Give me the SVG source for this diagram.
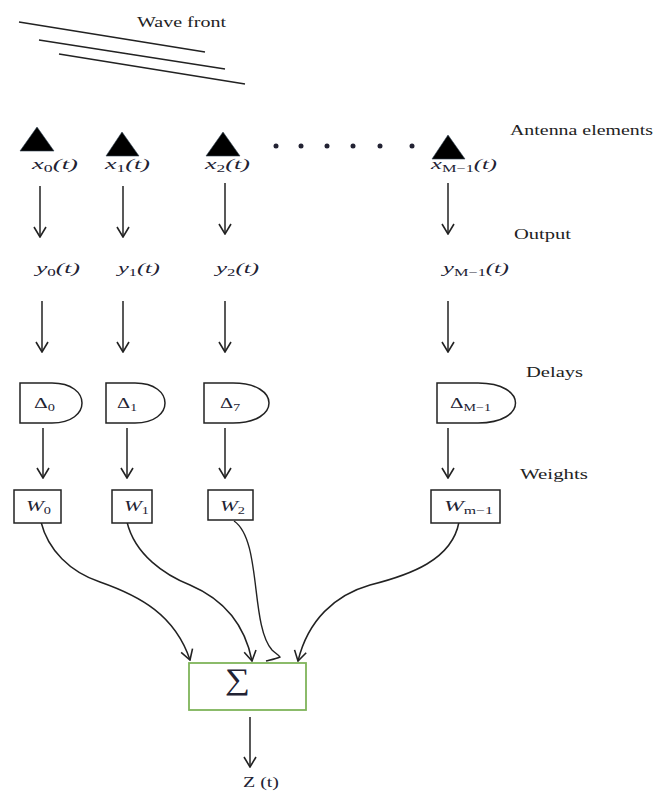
<svg xmlns="http://www.w3.org/2000/svg" width="667" height="792" viewBox="0 0 667 792">
<defs>
<marker id="a" viewBox="0 0 12 14" refX="11" refY="7" markerWidth="12" markerHeight="14" markerUnits="userSpaceOnUse" orient="auto"><path d="M1 1 L11 7 L1 13" fill="none" stroke="#222" stroke-width="1.6"/></marker>
</defs>
<style>
.t{font-family:"Liberation Serif",serif;font-size:15px;fill:#222}
.m{font-family:"Liberation Serif",serif;font-size:15px;font-style:italic;fill:#223}
.d{font-style:normal}
.s{font-size:10px;font-style:normal}
.b{fill:#fff;stroke:#222;stroke-width:1.5}
.c{fill:none;stroke:#222;stroke-width:1.5;marker-end:url(#a)}
.l{fill:none;stroke:#222;stroke-width:1.4}
.tri{fill:#000;stroke:#345;stroke-width:.6}
</style>
<rect width="667" height="792" fill="#fff"/>
<g id="wave-front">
<path class="l" d="M19 22L205 52M39 40L225 69M59 54L245 84"/>
<text class="t" x="137" y="27" textLength="89" lengthAdjust="spacingAndGlyphs">Wave front</text>
</g>
<g id="antennas">
<path class="tri" d="M37 127L54 151H20Z"/><path class="tri" d="M122 132L139 156H106Z"/><path class="tri" d="M223 132L240 156H206Z"/><path class="tri" d="M448 135L465 159H432Z"/>
<g fill="#223"><circle cx="276" cy="146" r="2.5"/><circle cx="301" cy="146" r="2.5"/><circle cx="327" cy="146" r="2.5"/><circle cx="353" cy="146" r="2.5"/><circle cx="380" cy="146" r="2.5"/><circle cx="412" cy="146" r="2.5"/></g>
<text class="t" x="510" y="135" textLength="143" lengthAdjust="spacingAndGlyphs">Antenna elements</text>
</g>
<g id="x-labels">
<text class="m" x="32" y="169" textLength="46" lengthAdjust="spacingAndGlyphs">x<tspan class="s" dy="3">0</tspan><tspan dy="-3">(t)</tspan></text>
<text class="m" x="105" y="169" textLength="45" lengthAdjust="spacingAndGlyphs">x<tspan class="s" dy="3">1</tspan><tspan dy="-3">(t)</tspan></text>
<text class="m" x="205" y="169" textLength="45" lengthAdjust="spacingAndGlyphs">x<tspan class="s" dy="3">2</tspan><tspan dy="-3">(t)</tspan></text>
<text class="m" x="431" y="169" textLength="66" lengthAdjust="spacingAndGlyphs">x<tspan class="s" dy="3">M−1</tspan><tspan dy="-3">(t)</tspan></text>
</g>
<g id="connectors">
<path class="c" d="M40 186V237"/><path class="c" d="M123 186V237"/><path class="c" d="M225 183V234"/><path class="c" d="M448 183V234"/>
<path class="c" d="M42 301V352"/><path class="c" d="M123 301V352"/><path class="c" d="M225 301V352"/><path class="c" d="M448 301V352"/>
<path class="c" d="M43 428V478"/><path class="c" d="M127 428V478"/><path class="c" d="M225 428V478"/><path class="c" d="M448 428V478"/>
<path class="c" d="M41 522C48 550 70 572 100 582C140 596 175 615 190 660"/>
<path class="c" d="M127 522C135 555 165 575 190 585C225 600 245 625 252 661"/>
<path class="l" d="M234 521C262 540 250 625 272 650C275 653 279 655 280 657C276 659 270 660 266 661"/>
<path class="c" d="M459 522C452 560 410 575 370 585C335 595 308 620 298 661"/>
<path class="c" d="M250 717V767"/>
</g>
<g id="y-labels">
<text class="m" x="36" y="273" textLength="44" lengthAdjust="spacingAndGlyphs">y<tspan class="s" dy="3">0</tspan><tspan dy="-3">(t)</tspan></text>
<text class="m" x="118" y="273" textLength="42" lengthAdjust="spacingAndGlyphs">y<tspan class="s" dy="3">1</tspan><tspan dy="-3">(t)</tspan></text>
<text class="m" x="216" y="273" textLength="43" lengthAdjust="spacingAndGlyphs">y<tspan class="s" dy="3">2</tspan><tspan dy="-3">(t)</tspan></text>
<text class="m" x="443" y="273" textLength="66" lengthAdjust="spacingAndGlyphs">y<tspan class="s" dy="3">M−1</tspan><tspan dy="-3">(t)</tspan></text>
<text class="t" x="514" y="239" textLength="57" lengthAdjust="spacingAndGlyphs">Output</text>
</g>
<g id="delays">
<path class="b" d="M20 383H52C92 383 92 423 52 423H20Z"/>
<path class="b" d="M106 383H135C175 383 175 423 135 423H106Z"/>
<path class="b" d="M204 383H233C281 383 281 423 233 423H204Z"/>
<path class="b" d="M437 383H478C528 383 528 423 478 423H437Z"/>
<text class="m d" x="34" y="408" textLength="21" lengthAdjust="spacingAndGlyphs">Δ<tspan class="s" dy="3">0</tspan></text>
<text class="m d" x="117" y="408" textLength="20" lengthAdjust="spacingAndGlyphs">Δ<tspan class="s" dy="3">1</tspan></text>
<text class="m d" x="220" y="408" textLength="20" lengthAdjust="spacingAndGlyphs">Δ<tspan class="s" dy="3">7</tspan></text>
<text class="m d" x="450" y="408" textLength="41" lengthAdjust="spacingAndGlyphs">Δ<tspan class="s" dy="3">M−1</tspan></text>
<text class="t" x="526" y="377" textLength="57" lengthAdjust="spacingAndGlyphs">Delays</text>
</g>
<g id="weights">
<rect class="b" x="14" y="490" width="47" height="33"/>
<rect class="b" x="112" y="490" width="40" height="33"/>
<rect class="b" x="208" y="490" width="45" height="30"/>
<rect class="b" x="431" y="490" width="69" height="33"/>
<text class="m" x="26" y="511" textLength="25" lengthAdjust="spacingAndGlyphs">W<tspan class="s" dy="3">0</tspan></text>
<text class="m" x="124" y="511" textLength="25" lengthAdjust="spacingAndGlyphs">W<tspan class="s" dy="3">1</tspan></text>
<text class="m" x="220" y="511" textLength="25" lengthAdjust="spacingAndGlyphs">W<tspan class="s" dy="3">2</tspan></text>
<text class="m" x="444" y="511" textLength="49" lengthAdjust="spacingAndGlyphs">W<tspan class="s" dy="3">m−1</tspan></text>
<text class="t" x="520" y="479" textLength="68" lengthAdjust="spacingAndGlyphs">Weights</text>
</g>
<g id="sum">
<rect x="189" y="663" width="117" height="47" fill="#fff" stroke="#7fb45a" stroke-width="1.8"/>
<text x="225" y="689" font-family="Liberation Serif,serif" font-size="30" fill="#223" textLength="25" lengthAdjust="spacingAndGlyphs">∑</text>
</g>
<text id="output" x="243" y="787" font-family="Liberation Serif,serif" font-size="14" fill="#223" textLength="36" lengthAdjust="spacingAndGlyphs">Z (t)</text>
</svg>
